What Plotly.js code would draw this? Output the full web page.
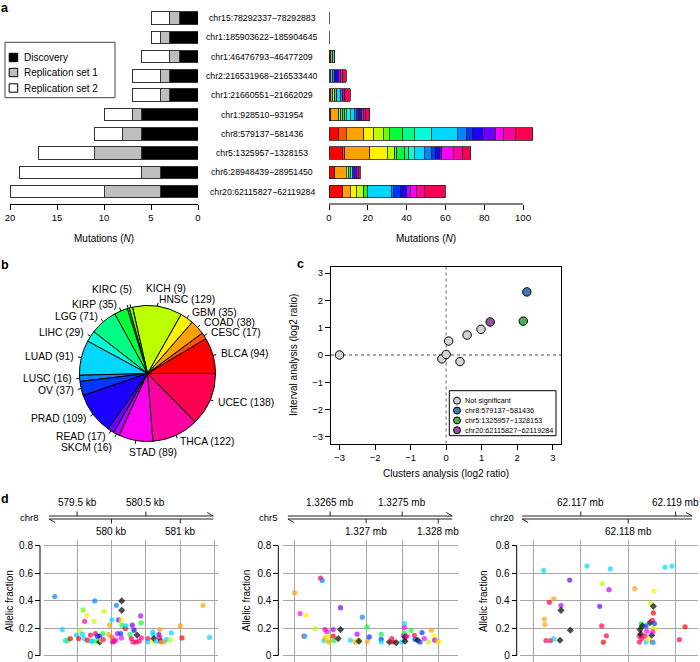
<!DOCTYPE html>
<html><head><meta charset="utf-8">
<script src="https://cdn.plot.ly/plotly-3.0.1.min.js"></script>
<style>html,body{margin:0;padding:0;background:#fff}#chart{width:700px;height:662px}</style>
</head><body><div id="chart"></div>
<script>
const FONT = 'Liberation Sans, Arial, Helvetica, sans-serif';
const W = 700, H = 662;
const PX = x => x / W, PY = y => 1 - y / H;

// ---------------- Panel a data ----------------
const regions = ['chr15:78292337−78292883','chr1:185903622−185904645','chr1:46476793−46477209','chr2:216531968−216533440','chr1:21660551−21662029','chr1:928510−931954','chr8:579137−581436','chr5:1325957−1328153','chr6:28948439−28951450','chr20:62115827−62119284'];
const discovery    = [2,3,2,3,3,6,6,6,4,4];
const replication1 = [1,1,1,1,1,1,2,5,2,6];
const replication2 = [2,1,3,3,3,3,3,6,13,10];

const cancerTypes = ['BLCA','CESC','COAD','GBM','HNSC','KICH','KIRC','KIRP','LGG','LIHC','LUAD','LUSC','OV','PRAD','READ','SKCM','STAD','THCA','UCEC'];
const typeColors  = ['#FF0000','#FF5100','#FFA100','#FFF200','#BCFF00','#6BFF00','#1BFF00','#00FF36','#00FF86','#00FFD7','#00D7FF','#0086FF','#0036FF','#1B00FF','#6B00FF','#BC00FF','#FF00F2','#FF00A1','#FF0051'];

// TCGA mutations per region, in cancerTypes order
const tcga_chr15_78292337  = [0,0,0,0,0,0,0,0,0,0,0,0,0,0,0,0,0,0,0];
const tcga_chr1_185903622  = [0,0,0,0,0,0,0,0,0,0,0,0,0,0,0,0,0,0,0];
const tcga_chr1_46476793   = [1,0,1,0,0,0,0,0,0,1,0,0,0,0,0,0,0,0,0];
const tcga_chr2_216531968  = [0,0,1,0,0,0,0,0,0,1,0,1,0,2,0,1,1,0,2];
const tcga_chr1_21660551   = [1,0,1,0,1,0,0,1,0,0,2,1,0,0,0,1,0,0,3];
const tcga_chr1_928510     = [1,0,4,0,1,1,0,1,1,2,2,1,1,1,0,1,1,1,2];
const tcga_chr8_579137     = [5,4,9,5,5,3,0,7,6,9,13,5,3,5,7,0,4,6,9];
const tcga_chr5_1325957    = [7,1,13,9,4,1,0,4,2,3,5,4,2,2,1,0,6,5,4];
const tcga_chr6_28948439   = [3,0,6,0,1,0,0,1,0,1,0,0,1,0,1,1,0,0,1];
const tcga_chr20_62115827  = [7,0,4,3,4,0,0,2,0,0,12,1,4,3,0,2,3,4,11];
const tcgaByRegion = [tcga_chr15_78292337,tcga_chr1_185903622,tcga_chr1_46476793,tcga_chr2_216531968,tcga_chr1_21660551,tcga_chr1_928510,tcga_chr8_579137,tcga_chr5_1325957,tcga_chr6_28948439,tcga_chr20_62115827];

// ---------------- Panel b data ----------------
const pieCounts = [94,17,38,35,129,9,5,35,71,29,91,16,37,109,17,16,89,122,138];

// ---------------- Panel c data ----------------
const cGroups      = ['Not significant','chr8:579137−581436','chr5:1325957−1328153','chr20:62115827−62119284'];
const cGroupColors = ['#D3D3D3','#377EB8','#4DAF4A','#984EA3'];
const clusterLog2  = [-3,-0.12,0,0.07,0.39,0.59,0.98,2.27,2.17,1.24];
const intervalLog2 = [0,-0.14,0.02,0.51,-0.24,0.73,0.94,2.31,1.24,1.21];
const cGroupOf     = [0,0,0,0,0,0,0,1,2,3];

// ---------------- Panel d data ----------------
const dChrom       = ['chr8','chr5','chr20'];
const dRegionStart = [579137,1325957,62115827];
const dRegionEnd   = [581436,1328153,62119284];

const chr8Pos  = [579176,579287,579331,579369,579403,579490,579524,579543,579577,579587,579602,579611,579645,579650,579694,579708,579722,579747,579757,579766,579781,579795,579829,579829,579853,579877,579882,579892,579960,579974,580008,580008,580018,580037,580061,580071,580086,580105,580134,580144,580149,580149,580153,580144,580202,580211,580270,580289,580303,580313,580328,580352,580371,580400,580424,580434,580434,580531,580531,580603,580603,580603,580618,580652,580690,580700,580700,580715,580724,580763,580797,580855,580870,581000,581025,581330,581426];
const chr8AF   = [0.43,0.19,0.11,0.113,0.125,0.15,0.125,0.178,0.157,0.333,0.125,0.25,0.294,0.113,0.15,0.106,0.106,0.25,0.398,0.161,0.106,0.142,0.142,0.10,0.113,0.161,0.118,0.323,0.154,0.222,0.26,0.133,0.10,0.106,0.113,0.366,0.161,0.26,0.161,0.26,0.398,0.33,0.222,0.13,0.198,0.217,0.154,0.125,0.222,0.10,0.186,0.10,0.15,0.106,0.289,0.239,0.13,0.125,0.10,0.173,0.154,0.10,0.125,0.106,0.154,0.19,0.13,0.108,0.10,0.10,0.118,0.115,0.166,0.217,0.13,0.366,0.133];
const chr8Type = ['LUSC','LUAD','LUAD','KIRP','BLCA','LUAD','BLCA','HNSC','LUAD','KICH','LUAD','THCA','GBM','BLCA','UCEC','LUAD','LUAD','HNSC','LUSC','UCEC','KIRP','OV','PRAD','DISC','GBM','KIRP','THCA','HNSC','COAD','COAD','LUAD','CESC','UCEC','UCEC','STAD','LUSC','SKCM','READ','OV','GBM','DISC','DISC','KIRP','STAD','BLCA','LUAD','KIRP','UCEC','READ','THCA','PRAD','UCEC','DISC','UCEC','SKCM','KIRP','THCA','UCEC','LUAD','LUAD','LUAD','GBM','DISC','LUAD','READ','COAD','UCEC','PRAD','COAD','COAD','LUAD','HNSC','LUAD','COAD','BLCA','COAD','LUAD'];

const chr5Pos  = [1326009,1326083,1326138,1326152,1326166,1326290,1326368,1326391,1326414,1326428,1326437,1326460,1326465,1326465,1326483,1326543,1326543,1326552,1326612,1326644,1326644,1326782,1326851,1326874,1326883,1326901,1326947,1327012,1327016,1327044,1327209,1327209,1327209,1327324,1327356,1327370,1327416,1327494,1327517,1327531,1327531,1327531,1327540,1327540,1327563,1327623,1327669,1327678,1327715,1327747,1327775,1327807,1327867,1327904,1327940,1327950,1327991,1328009];
const chr5AF   = [0.458,0.306,0.142,0.142,0.294,0.198,0.564,0.547,0.111,0.19,0.13,0.173,0.142,0.115,0.10,0.19,0.142,0.111,0.125,0.349,0.19,0.113,0.099,0.157,0.113,0.106,0.28,0.21,0.106,0.137,0.157,0.12,0.10,0.10,0.125,0.10,0.096,0.10,0.149,0.234,0.205,0.166,0.137,0.106,0.142,0.183,0.149,0.12,0.113,0.10,0.169,0.125,0.10,0.186,0.142,0.113,0.106,0.10];
const chr5Type = ['COAD','STAD','UCEC','LUAD','GBM','HNSC','UCEC','LUSC','LUAD','THCA','COAD','STAD','GBM','GBM','COAD','SKCM','BLCA','KIRP','DISC','READ','DISC','LUAD','COAD','SKCM','HNSC','DISC','LUSC','KIRP','COAD','OV','KIRP','OV','LUAD','DISC','UCEC','BLCA','DISC','LUAD','STAD','LUAD','STAD','KIRP','DISC','DISC','THCA','KIRP','UCEC','OV','DISC','OV','OV','STAD','HNSC','COAD','GBM','SKCM','COAD','GBM'];

const chr20Pos  = [62116218,62116232,62116246,62116267,62116337,62116366,62116429,62116429,62116562,62116583,62116583,62116766,62116780,62117132,62117399,62117441,62117455,62117476,62117540,62117596,62117624,62118137,62118236,62118236,62118250,62118264,62118271,62118285,62118299,62118355,62118376,62118376,62118390,62118426,62118461,62118475,62118496,62118510,62118510,62118531,62118531,62118545,62118531,62118552,62118580,62118517,62118531,62118777,62118924,62119079,62119199];
const chr20AF   = [0.619,0.267,0.227,0.111,0.388,0.111,0.414,0.123,0.113,0.364,0.33,0.549,0.186,0.651,0.359,0.217,0.523,0.099,0.145,0.48,0.631,0.487,0.142,0.10,0.19,0.157,0.234,0.125,0.217,0.142,0.217,0.10,0.178,0.12,0.241,0.378,0.149,0.258,0.10,0.359,0.311,0.47,0.198,0.234,0.198,0.173,0.096,0.643,0.651,0.118,0.21];
const chr20Type = ['LUAD','COAD','COAD','UCEC','UCEC','UCEC','COAD','LUAD','DISC','SKCM','DISC','READ','DISC','LUAD','READ','UCEC','HNSC','BLCA','UCEC','SKCM','LUAD','COAD','UCEC','UCEC','DISC','DISC','KIRP','UCEC','DISC','UCEC','OV','LUAD','STAD','GBM','DISC','HNSC','DISC','UCEC','UCEC','DISC','BLCA','GBM','HNSC','OV','GBM','STAD','LUAD','LUAD','LUAD','UCEC','BLCA'];

const dUpperTicks  = [[579500,580500],[1326500,1327500],[62117000,62119000]];
const dUpperLabels = [['579.5 kb','580.5 kb'],['1.3265 mb','1.3275 mb'],['62.117 mb','62.119 mb']];
const dLowerTicks  = [[580000,581000],[1327000,1328000],[62118000]];
const dLowerLabels = [['580 kb','581 kb'],['1.327 mb','1.328 mb'],['62.118 mb']];
const dPos = [chr8Pos, chr5Pos, chr20Pos];
const dAF = [chr8AF, chr5AF, chr20AF];
const dType = [chr8Type, chr5Type, chr20Type];

// ---------------- build ----------------
const traces = [], shapes = [], annotations = [];
function ann(x, y, text, size, o) {
  o = o || {};
  return Object.assign({xref:'paper', yref:'paper', x:PX(x), y:PY(y), text:text, showarrow:false,
    xanchor:'center', yanchor:'middle', borderpad:0,
    font:{family:FONT, size:size, color:'#000'}}, o);
}
function seg(x0, y0, x1, y1, color, width, dash) {
  return {type:'line', xref:'paper', yref:'paper', x0:PX(x0), y0:PY(y0), x1:PX(x1), y1:PY(y1),
    line:{color:color||'#000', width:width||1, dash:dash||'solid'}};
}
const typeColor = t => t === 'DISC' ? '#000000' : typeColors[cancerTypes.indexOf(t)];

// Panel a left: stacked bars
[[discovery,'#000000'],[replication1,'#BEBEBE'],[replication2,'#FFFFFF']].forEach(([v,c]) => {
  traces.push({type:'bar', orientation:'h', x:v, y:regions, xaxis:'x', yaxis:'y',
    marker:{color:c, line:{color:'#333', width:1}}, showlegend:false, hoverinfo:'skip'});
});
// Panel a right: TCGA by cancer type
cancerTypes.forEach((t, k) => {
  traces.push({type:'bar', orientation:'h', x:tcgaByRegion.map(r => r[k]), y:regions, xaxis:'x2', yaxis:'y2',
    marker:{color:typeColors[k], line:{color:'#222', width:0.8}}, showlegend:false, hoverinfo:'skip'});
});
tcgaByRegion.forEach((r, i) => {
  if (r.reduce((a,b)=>a+b,0) === 0) {
    shapes.push({type:'line', xref:'x2', yref:'y2', x0:0, x1:0, y0:i-0.32, y1:i+0.32, line:{color:'#888', width:1.2}});
  }
});
regions.forEach(r => annotations.push({xref:'paper', yref:'y', x:PX(262), y:r, text:r, showarrow:false,
  xanchor:'center', yanchor:'middle', font:{family:FONT, size:8.7, color:'#000'}}));
shapes.push({type:'line', xref:'x2', yref:'paper', x0:0, x1:100, y0:PY(204), y1:PY(204), line:{color:'#000', width:1}});
annotations.push(ann(104, 238, 'Mutations (<i>N</i>)', 10));
annotations.push(ann(426, 238, 'Mutations (<i>N</i>)', 10));
// legend a
shapes.push({type:'rect', xref:'paper', yref:'paper', x0:PX(5), x1:PX(115), y0:PY(42.3), y1:PY(97.7), line:{color:'#444', width:1}});
[['Discovery','#000000',57.5],['Replication set 1','#BEBEBE',72.5],['Replication set 2','#FFFFFF',88]].forEach(([t,c,y]) => {
  shapes.push({type:'rect', xref:'paper', yref:'paper', x0:PX(9.2), x1:PX(17.7), y0:PY(y+4.2), y1:PY(y-4.2), fillcolor:c, line:{color:'#000', width:1}});
  annotations.push(ann(22.5, y, t, 10, {xanchor:'left'}));
});

// Panel b pie (counter-clockwise from 3 o'clock, as in R's pie)
const pcx = 147.5, pcy = 373.5, pr = 68;
const pieTotal = pieCounts.reduce((a,b)=>a+b,0);
traces.push({type:'pie', values:pieCounts, labels:cancerTypes, sort:false, direction:'counterclockwise',
  rotation:90 - pieCounts[0]/pieTotal*360,
  marker:{colors:typeColors, line:{color:'#000', width:1}}, textinfo:'none', hoverinfo:'skip', showlegend:false,
  domain:{x:[PX(pcx-pr), PX(pcx+pr)], y:[PY(pcy+pr), PY(pcy-pr)]}});
const pieNudge = {KICH:{dx:16, dy:-12, anchor:'left'}, KIRC:{dx:6.5, dy:-12.5}, SKCM:{dx:0, dy:7.5}, STAD:{dx:18, dy:5.5, anchor:'center'}};
let cum = 0;
cancerTypes.forEach((t, i) => {
  const mid = (cum + pieCounts[i]/2) / pieTotal * 2 * Math.PI; cum += pieCounts[i];
  const c = Math.cos(mid), s = Math.sin(mid);
  shapes.push(seg(pcx + pr*c, pcy - pr*s, pcx + 1.05*pr*c, pcy - 1.05*pr*s, '#000', 1));
  let lx = pcx + 1.1*pr*c, ly = pcy - 1.1*pr*s, anchor = c < 0 ? 'right' : 'left';
  const n = pieNudge[t];
  if (n) { lx += n.dx; ly += n.dy; if (n.anchor) anchor = n.anchor; }
  annotations.push(ann(lx, ly, t + ' (' + pieCounts[i] + ')', 10.3, {xanchor:anchor}));
});

// Panel c scatter
cGroups.forEach((g, gi) => {
  const idx = cGroupOf.map((v,i)=>v===gi?i:-1).filter(i=>i>=0);
  traces.push({type:'scatter', mode:'markers', x:idx.map(i=>clusterLog2[i]), y:idx.map(i=>intervalLog2[i]),
    xaxis:'x3', yaxis:'y3', marker:{size:8.5, color:cGroupColors[gi], line:{color:'#000', width:1}},
    showlegend:false, hoverinfo:'skip', cliponaxis:false});
});
shapes.push({type:'line', xref:'x3', yref:'y3 domain', x0:0, x1:0, y0:0, y1:1, line:{color:'#888', width:1.3, dash:'3px,3px'}, layer:'below'});
shapes.push({type:'line', xref:'x3 domain', yref:'y3', x0:0, x1:1, y0:0, y1:0, line:{color:'#888', width:1.3, dash:'3px,3px'}, layer:'below'});
annotations.push(ann(446, 473, 'Clusters analysis (log2 ratio)', 10));
annotations.push(ann(293, 355, 'Interval analysis (log2 ratio)', 10, {textangle:-90}));
// legend c
shapes.push({type:'rect', xref:'paper', yref:'paper', x0:PX(449.3), x1:PX(556), y0:PY(390.7), y1:PY(435.7), line:{color:'#000', width:1}, fillcolor:'#fff'});
cGroups.forEach((g, gi) => {
  const y = 400.7 + gi*9.85;
  shapes.push({type:'circle', xref:'paper', yref:'paper', x0:PX(453.5), x1:PX(460.5), y0:PY(y+3.5), y1:PY(y-3.5), fillcolor:cGroupColors[gi], line:{color:'#000', width:1}});
  annotations.push(ann(464, y, g, 7.3, {xanchor:'left'}));
});

// Panel d
const dStyle = [
  {xdom:[44,218],    xr:[579020,581548],     yax:40,    grid:[579500,580000,580500,581000,581500],   titleX:10,    chrX:38.5},
  {xdom:[283.3,458], xr:[1325851,1328274],   yax:278.3, grid:[1326000,1326500,1327000,1327500,1328000], titleX:246.7, chrX:277.5},
  {xdom:[520,698.3], xr:[62115719,62119478], yax:516.7, grid:[62116000,62117000,62118000,62119000], titleX:483.3, chrX:515}
];
const dY0 = 540, dY1 = 662, dYr = [-0.045, 0.84];
const layoutAxes = {};
dStyle.forEach((st, i) => {
  const n = i + 4;
  const xa = 'x' + n, ya = 'y' + n;
  traces.push({type:'scatter', mode:'markers', x:dPos[i], y:dAF[i], xaxis:xa, yaxis:ya,
    marker:{size:dType[i].map(t=>t==='DISC'?5.5:5.2), color:dType[i].map(typeColor), symbol:dType[i].map(t=>t==='DISC'?'diamond':'circle'), line:{width:0}},
    showlegend:false, hoverinfo:'skip'});
  layoutAxes['xaxis'+n] = {domain:[PX(st.xdom[0]), PX(st.xdom[1])], range:st.xr, anchor:ya, showticklabels:false, ticks:'',
    tickvals:st.grid, showgrid:true, gridcolor:'#a8a8a8', gridwidth:1, zeroline:false, showline:false, fixedrange:true};
  layoutAxes['yaxis'+n] = {domain:[PY(dY1), PY(dY0)], range:dYr, anchor:'free', position:PX(st.yax), tickvals:[0,0.2,0.4,0.6,0.8],
    ticktext:['0','0.2','0.4','0.6','0.8'], ticks:'outside', ticklen:5, tickcolor:'#000', showgrid:true, gridcolor:'#a8a8a8', gridwidth:1,
    zeroline:false, showline:false, tickfont:{family:FONT, size:10, color:'#000'}, fixedrange:true};
  shapes.push({type:'line', xref:'paper', yref:ya, x0:PX(st.yax), x1:PX(st.yax), y0:0, y1:0.8, line:{color:'#000', width:1}});
  annotations.push(ann(st.titleX, 600.8, 'Allelic fraction', 10, {textangle:-90}));
  // genome axis track
  const toPx = v => st.xdom[0] + (v - st.xr[0]) / (st.xr[1] - st.xr[0]) * (st.xdom[1] - st.xdom[0]);
  const L = toPx(dRegionStart[i]) - 3, R = toPx(dRegionEnd[i]) + 3;
  const yT = 516, yB = 519;
  shapes.push(seg(L, yT, R, yT, '#222', 1));
  shapes.push(seg(L, yB, R, yB, '#222', 1));
  shapes.push(seg(R, yT, R-6, yT-3.5, '#222', 1));
  shapes.push(seg(L, yB, L+6, yB+3.5, '#222', 1));
  dUpperTicks[i].forEach((v, k) => {
    shapes.push(seg(toPx(v), yT, toPx(v), yT-4.5, '#222', 1));
    annotations.push(ann(toPx(v), 502, dUpperLabels[i][k], 10));
  });
  dLowerTicks[i].forEach((v, k) => {
    shapes.push(seg(toPx(v), yB, toPx(v), yB+4.5, '#222', 1));
    annotations.push(ann(toPx(v), 531, dLowerLabels[i][k], 10));
  });
  annotations.push(ann(st.chrX, 517, dChrom[i], 9.5, {xanchor:'right'}));
});

// panel letters
[['a',5,8],['b',5,265],['c',300,264],['d',5,499]].forEach(([t,x,y]) =>
  annotations.push(ann(x, y, '<b>'+t+'</b>', 12.5)));

const tickFont = {family:FONT, size:9.5, color:'#000'};
const layout = Object.assign({
  width:W, height:H, margin:{l:0,r:0,t:0,b:0,pad:0}, paper_bgcolor:'#fff', plot_bgcolor:'rgba(0,0,0,0)',
  font:{family:FONT, color:'#000'}, barmode:'stack', bargap:0.35, showlegend:false,
  xaxis:{domain:[PX(10),PX(198)], range:[20,0], anchor:'free', position:PY(204), tickvals:[0,5,10,15,20],
    ticks:'outside', ticklen:5, tickcolor:'#000', showline:true, linecolor:'#000', linewidth:1, showgrid:false, zeroline:false, tickfont:tickFont, fixedrange:true},
  yaxis:{domain:[PY(201.35),PY(8.35)], type:'category', categoryarray:regions, categoryorder:'array', range:[9.5,-0.5], visible:false, anchor:'x', fixedrange:true},
  xaxis2:{domain:[PX(329),PX(540)], range:[0,211/1.94], anchor:'free', position:PY(204), tickvals:[0,20,40,60,80,100],
    ticks:'outside', ticklen:5, tickcolor:'#000', showline:false, showgrid:false, zeroline:false, tickfont:tickFont, fixedrange:true},
  yaxis2:{domain:[PY(201.35),PY(8.35)], type:'category', categoryarray:regions, categoryorder:'array', range:[9.5,-0.5], visible:false, anchor:'x2', fixedrange:true},
  xaxis3:{domain:[PX(331),PX(561.3)], range:[-3.24,3.24], anchor:'y3', tickvals:[-3,-2,-1,0,1,2,3], ticks:'outside', ticklen:5, tickcolor:'#000',
    showline:true, mirror:true, linecolor:'#000', linewidth:1, showgrid:false, zeroline:false, tickfont:tickFont, fixedrange:true},
  yaxis3:{domain:[PY(443.5),PY(266.5)], range:[-3.24,3.24], anchor:'x3', tickvals:[-3,-2,-1,0,1,2,3], ticks:'outside', ticklen:5, tickcolor:'#000',
    showline:true, mirror:true, linecolor:'#000', linewidth:1, showgrid:false, zeroline:false, tickfont:tickFont, fixedrange:true},
  shapes:shapes, annotations:annotations
}, layoutAxes);

Plotly.newPlot('chart', traces, layout, {staticPlot:true, displayModeBar:false});
</script></body></html>
